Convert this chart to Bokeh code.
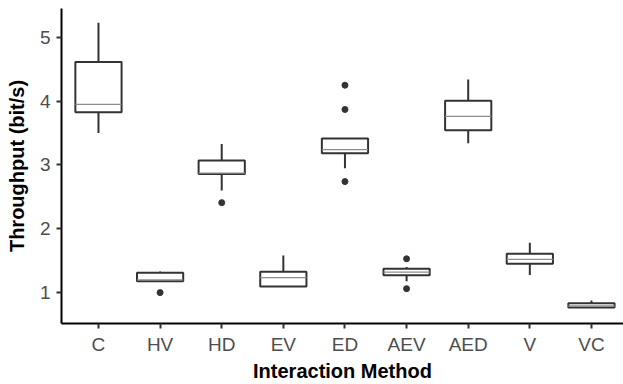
from bokeh.plotting import figure
from bokeh.models import Range1d, FixedTicker, ColumnDataSource
from bokeh.embed import file_html
from bokeh.resources import INLINE

# Throughput summary per interaction method (bit/s)
methods = ["C", "HV", "HD", "EV", "ED", "AEV", "AED", "V", "VC"]
lower_whisker = [3.50, 1.18, 2.60, 1.094, 2.95, 1.18, 3.34, 1.275, 0.765]
q1 = [3.825, 1.18, 2.857, 1.094, 3.185, 1.272, 3.544, 1.453, 0.765]
median = [3.949, 1.20, 2.873, 1.234, 3.241, 1.320, 3.762, 1.520, 0.790]
q3 = [4.614, 1.31, 3.069, 1.325, 3.413, 1.372, 4.006, 1.610, 0.835]
upper_whisker = [5.23, 1.33, 3.33, 1.58, 3.413, 1.40, 4.34, 1.78, 0.875]

# Outlying observations: (method, value)
outlier_method = ["HV", "HD", "ED", "ED", "ED", "AEV", "AEV"]
outlier_value = [1.00, 2.41, 4.25, 3.87, 2.74, 1.53, 1.062]

pos = {m: i + 1 for i, m in enumerate(methods)}
box_width = 0.75

src = ColumnDataSource(dict(
    x=[pos[m] for m in methods],
    lo=lower_whisker, q1=q1, med=median, q3=q3, hi=upper_whisker,
    left=[pos[m] - box_width / 2 for m in methods],
    right=[pos[m] + box_width / 2 for m in methods],
))
out_src = ColumnDataSource(dict(
    x=[pos[m] for m in outlier_method], y=outlier_value,
))

p = figure(
    width=623, height=384, output_backend="svg", toolbar_location=None,
    x_range=Range1d(0.4, 9.52), y_range=Range1d(0.516, 5.452),
    min_border_left=61, min_border_right=0, min_border_top=8, min_border_bottom=60,
)

dark = "#333333"

# whiskers
p.segment(x0="x", y0="q3", x1="x", y1="hi", source=src, line_color=dark, line_width=2)
p.segment(x0="x", y0="lo", x1="x", y1="q1", source=src, line_color=dark, line_width=2)
# boxes
p.quad(left="left", right="right", bottom="q1", top="q3", source=src,
       fill_color="white", line_color=dark, line_width=2)
# medians
p.segment(x0="left", y0="med", x1="right", y1="med", source=src,
          line_color="#8c8c8c", line_width=1.3)
# outliers
p.scatter(x="x", y="y", source=out_src, size=6, fill_color=dark, line_color=dark)

p.outline_line_color = None
p.xgrid.visible = False
p.ygrid.visible = False
p.background_fill_color = "white"
p.border_fill_color = "white"

p.xaxis.ticker = FixedTicker(ticks=[pos[m] for m in methods])
p.xaxis.major_label_overrides = {pos[m]: m for m in methods}
p.yaxis.ticker = FixedTicker(ticks=[1, 2, 3, 4, 5])

p.xaxis.axis_label = "Interaction Method"
p.yaxis.axis_label = "Throughput (bit/s)"

for ax in (p.xaxis, p.yaxis):
    ax.axis_line_color = "black"
    ax.axis_line_width = 2
    ax.major_tick_line_color = dark
    ax.major_tick_line_width = 2
    ax.major_tick_out = 5
    ax.major_tick_in = 0
    ax.minor_tick_line_color = None
    ax.major_label_text_font = "Liberation Sans"
    ax.major_label_text_font_size = "19px"
    ax.major_label_text_color = "#4d4d4d"
    ax.axis_label_text_font = "Liberation Sans"
    ax.axis_label_text_font_size = "20px"
    ax.axis_label_text_font_style = "bold"
    ax.axis_label_text_color = "black"

p.xaxis.major_label_standoff = 5
p.xaxis.axis_label_standoff = 2
p.yaxis.major_label_standoff = 6
p.yaxis.axis_label_standoff = 9

open("out.html", "w").write(file_html(p, INLINE))
